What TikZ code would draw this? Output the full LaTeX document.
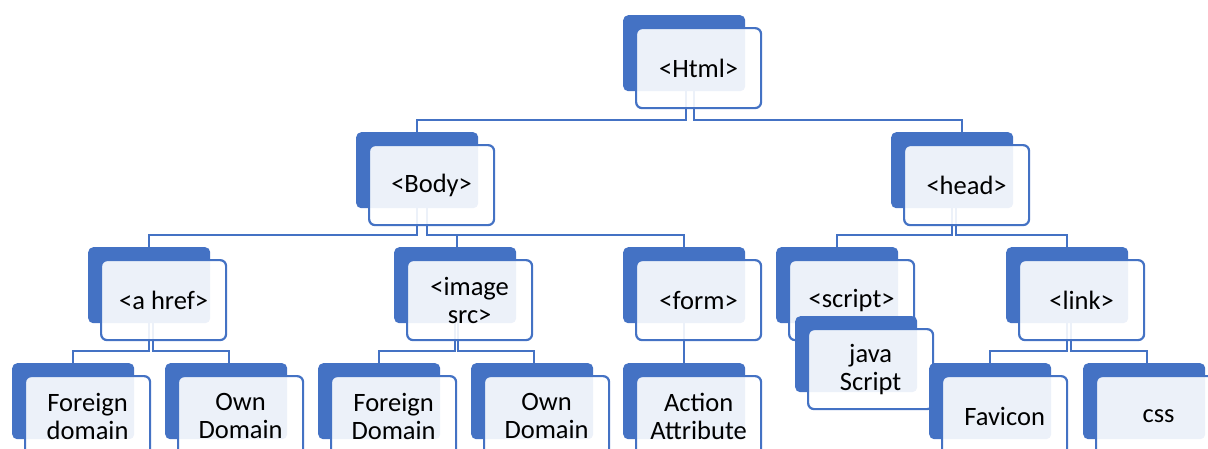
\documentclass[tikz,border=0pt]{standalone}
\usepackage{fontspec}
\setmainfont{Carlito}
\usetikzlibrary{backgrounds}
\definecolor{sablue}{HTML}{4472C4}
\tikzset{
  backbox/.style={fill=sablue, draw=none, rounded corners=5pt, minimum width=122pt, minimum height=76pt, anchor=north west, inner sep=0pt},
  frontbox/.style={fill=white, fill opacity=0.9, text opacity=1, draw=sablue, draw opacity=1, line width=2.2pt, rounded corners=6pt, minimum width=125pt, minimum height=80pt, anchor=north west, inner sep=0pt, align=center, font=\fontsize{26.5}{28}\selectfont, text=black},
  conn/.style={draw=sablue, line width=2.2pt}
}
\newcommand\smnode[4]{%
  \node[backbox] (#1B) at (#2,#3) {};
  \node[frontbox] (#1F) at (#2+12,#3+12) {#4};
}
\newcommand\conn[4]{%
  \draw[conn] ([xshift=#2]#1B.center) |- ([xshift=#4,yshift=12pt]#3B.north) -- ([xshift=#4]#3B.north);
}
\begin{document}
\begin{tikzpicture}[x=1pt,y=-1pt]
\useasboundingbox (0,0) rectangle (1208,448);
\clip (0,0) rectangle (1208,448);
\smnode{html}{623}{15}{<Html>}
\smnode{body}{356}{132}{<Body>}
\smnode{head}{891}{132}{<head>}
\smnode{ahref}{88}{247}{<a href>}
\smnode{image}{394}{247}{<image\\src>}
\smnode{form}{623}{247}{<form>}
\smnode{script}{776}{247}{<script>}
\smnode{java}{795}{316}{java\\Script}
\smnode{link}{1006}{247}{<link>}
\smnode{fdone}{12}{363}{Foreign\\domain}
\smnode{odone}{165}{363}{Own\\Domain}
\smnode{fdtwo}{318}{363}{Foreign\\Domain}
\smnode{odtwo}{471}{363}{Own\\Domain}
\smnode{action}{623}{363}{Action\\Attribute}
\smnode{favicon}{929}{363}{Favicon}
\smnode{css}{1083}{363}{css}
\begin{scope}[on background layer]
\conn{html}{1.5pt}{body}{0pt}
\conn{html}{9.5pt}{head}{10pt}
\conn{body}{0pt}{ahref}{0pt}
\conn{body}{10pt}{image}{2pt}
\conn{body}{10pt}{form}{0pt}
\conn{head}{0pt}{script}{0pt}
\conn{head}{4pt}{link}{0pt}
\conn{ahref}{0pt}{fdone}{0pt}
\conn{ahref}{4pt}{odone}{3pt}
\conn{image}{0pt}{fdtwo}{0pt}
\conn{image}{3pt}{odtwo}{2pt}
\conn{form}{0pt}{action}{0pt}
\conn{link}{0pt}{favicon}{0pt}
\conn{link}{4pt}{css}{3pt}
\end{scope}
\end{tikzpicture}
\end{document}
